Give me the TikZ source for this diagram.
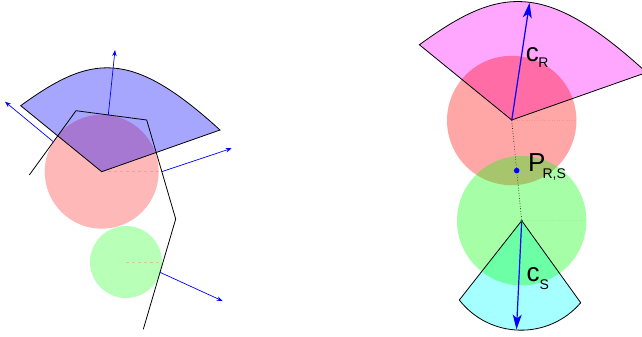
\documentclass[tikz,border=0pt]{standalone}
\usepackage{fontspec}
\setmainfont{Liberation Sans}
\usetikzlibrary{arrows.meta}
\definecolor{pR}{RGB}{255,0,0}
\definecolor{pG}{RGB}{0,255,0}
\definecolor{pB}{RGB}{0,0,255}
\definecolor{pM}{RGB}{255,0,255}
\definecolor{pC}{RGB}{0,255,255}
\begin{document}
\begin{tikzpicture}[x=1pt,y=-1pt,
  nvec/.style={pB, line width=0.7pt, -{Stealth[length=6pt,width=4.5pt]}},
  cvec/.style={pB, line width=1.2pt, -{Stealth[length=15pt,width=9pt,inset=4pt]}},
  rad/.style={pR!60, draw opacity=0.35, dashed, line width=0.5pt},
  outl/.style={draw=black, line width=0.8pt, line join=miter},
  lbl/.style={anchor=base west, inner sep=0pt, font=\fontsize{26}{26}\selectfont}]
\newcommand{\subtxt}[1]{{\fontsize{14}{14}\selectfont #1}}
\useasboundingbox (0,0) rectangle (642,337);

% ---------------- left figure ----------------
\coordinate (rc) at (101.7,171.7);
\coordinate (gc) at (126,262);
\fill[pR, fill opacity=0.28] (rc) circle[radius=57];
\fill[pG, fill opacity=0.28] (gc) circle[radius=36];
\draw[rad] (rc) -- ++(57,0);
\draw[rad] (gc) -- ++(36,0);

\begin{scope}[shift={(101.7,171.7)}]
  \coordinate (la) at (0,0);
  \coordinate (lA) at (-81,-66);
  \coordinate (lC) at (118.3,-41.7);
  \fill[pB, fill opacity=0.35] (la) -- (lA) .. controls (-11,-116.9) and (28.6,-123.7) .. (lC) -- cycle;
  \draw[outl] (la) -- (lA) .. controls (-11,-116.9) and (28.6,-123.7) .. (lC) -- cycle;
\end{scope}

\coordinate (p1) at (29.3,175);
\coordinate (p2) at (76,110.7);
\coordinate (p3) at (146.7,120);
\coordinate (p4) at (175.7,219);
\coordinate (p5) at (143.3,329.3);
\draw[line width=0.8pt, line join=miter] (p1) -- (p2) -- (p3) -- (p4) -- (p5);

\coordinate (a1s) at (108.3,115);   \coordinate (a1e) at (115,50);
\coordinate (a2s) at (53.3,141.7);  \coordinate (a2e) at (5,101.7);
\coordinate (a3s) at (161.7,171.7); \coordinate (a3e) at (231.7,148.3);
\coordinate (a4s) at (160,272.3);   \coordinate (a4e) at (222.7,301);
\draw[nvec] (a1s) -- (a1e);
\draw[nvec] (a2s) -- (a2e);
\draw[nvec] (a3s) -- (a3e);
\draw[nvec] (a4s) -- (a4e);

% ---------------- right figure ----------------
\coordinate (Rc) at (511.7,120.5);
\coordinate (Gc) at (521.7,220.7);
\coordinate (P) at (516.7,170.6);

\begin{scope}[shift={(511.7,120)}, scale=1.14]
  \fill[pM, fill opacity=0.35] (0,0) -- (-81,-66) .. controls (-11,-116.9) and (28.6,-123.7) .. (118.3,-41.7) -- cycle;
\end{scope}
\fill[pC, fill opacity=0.35] (Gc) -- (459.3,300) .. controls (489.8,339.1) and (548.5,340.4) .. (580.7,302.7) -- cycle;

\fill[pR, fill opacity=0.35] (Rc) circle[radius=64.7];
\fill[pG, fill opacity=0.35] (Gc) circle[radius=64.7];
\draw[rad, dotted] (Rc) -- ++(64.7,0);
\draw[pG!50!white, draw opacity=0.6, dotted, line width=0.5pt] (Gc) -- ++(64.7,0);

\begin{scope}[shift={(511.7,120)}, scale=1.14]
  \draw[outl] (0,0) -- (-81,-66) .. controls (-11,-116.9) and (28.6,-123.7) .. (118.3,-41.7) -- cycle;
\end{scope}
\draw[outl] (Gc) -- (459.3,300) .. controls (489.8,339.1) and (548.5,340.4) .. (580.7,302.7) -- cycle;

\draw[black, dotted, line width=0.6pt] (Rc) -- (Gc);
\coordinate (cRe) at (529.5,3);
\coordinate (cSe) at (516.5,329.5);
\draw[cvec] (Rc) -- (cRe);
\draw[cvec] (Gc) -- (cSe);
\fill[pB] (P) circle[radius=2.8];
\fill[pG!60!black] (Gc) circle[radius=1.3];

\node[lbl] (cR) at (525.7,61.7) {c\kern-0.5pt\raisebox{-6pt}{\subtxt{R}}};
\node[lbl] (PRS) at (528,171) {P\kern-3pt\raisebox{-7.3pt}{\subtxt{R,S}}};
\node[lbl] (cS) at (526.3,281) {c\kern0pt\raisebox{-8pt}{\subtxt{S}}};
\end{tikzpicture}
\end{document}
